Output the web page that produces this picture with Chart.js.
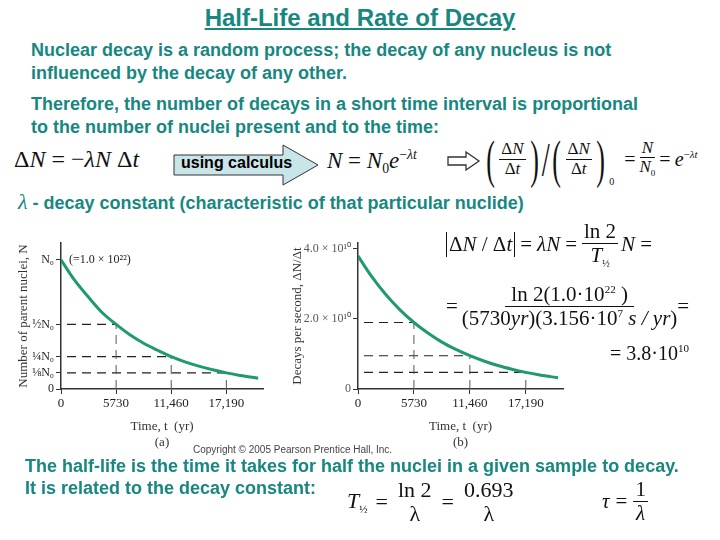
<!DOCTYPE html>
<html><head><meta charset="utf-8">
<script src="https://cdn.jsdelivr.net/npm/chart.js@4/dist/chart.umd.min.js"></script>
<style>
html,body{margin:0;padding:0;background:#fff}
#slide{position:relative;width:720px;height:540px;overflow:hidden;background:#fff}
.abs{position:absolute;white-space:nowrap}
.teal{color:#17877f;font-family:"Liberation Sans Narrow","Arial Narrow","Liberation Sans",sans-serif;font-weight:bold}
.serif{font-family:"Liberation Serif","Times New Roman",serif;color:#111}
.frac{display:inline-flex;flex-direction:column;align-items:center;vertical-align:middle;line-height:1.1}
.frac>span:first-child{border-bottom:1.3px solid #111;padding:0 2px}
.fracnb>span:first-child{border-bottom:none}
canvas{position:absolute}
sub,sup{font-size:60%}
</style></head>
<body><div id="slide">
<div class="abs teal" style="left:0;width:720px;text-align:center;top:4px;font-size:24px;text-decoration:underline;">Half-Life and Rate of Decay</div>
<div class="abs teal" style="left:31px;top:39px;font-size:18px;line-height:23px;">Nuclear decay is a random process; the decay of any nucleus is not<br>influenced by the decay of any other.</div>
<div class="abs teal" style="left:31px;top:93px;font-size:18px;line-height:23px;">Therefore, the number of decays in a short time interval is proportional<br>to the number of nuclei present and to the time:</div>

<div class="abs serif" style="left:14px;top:146px;font-size:24px;">Δ<i>N</i> = −<i>λN</i> Δ<i>t</i></div>
<svg class="abs" style="left:172px;top:142px" width="150" height="46"><polygon points="2,13 111,13 111,3 146,23 111,43 111,33 2,33" fill="#c8e5ea" stroke="#333" stroke-width="1"/></svg>
<div class="abs" style="left:181px;top:154px;font:bold 16px 'Liberation Sans Narrow','Liberation Sans',sans-serif;color:#000">using calculus</div>
<div class="abs serif" style="left:327px;top:147px;font-size:23px;"><i>N</i> = <i>N</i><sub>0</sub><i>e</i><sup>−<i>λt</i></sup></div>
<svg class="abs" style="left:446px;top:150px" width="36" height="22"><polygon points="2,7 20,7 20,2 33,11 20,20 20,15 2,15" fill="#fff" stroke="#333" stroke-width="1.3"/></svg>
<div class="abs serif" style="left:482px;top:131px;font-size:17px;display:flex;align-items:center;height:56px;">
<span style="font-size:52px;transform:scaleX(0.5);display:inline-block;">(</span><span class="frac"><span>Δ<i>N</i></span><span>Δ<i>t</i></span></span><span style="font-size:52px;transform:scaleX(0.5);display:inline-block;">)</span><span style="font-size:48px;transform:scaleX(0.6);display:inline-block;margin:0 -4px">/</span><span style="font-size:52px;transform:scaleX(0.5);display:inline-block;">(</span><span class="frac"><span>Δ<i>N</i></span><span>Δ<i>t</i></span></span><span style="font-size:52px;transform:scaleX(0.5);display:inline-block;">)</span><span style="font-size:10px;align-self:flex-end;margin-right:6px">0</span><span style="font-size:20px;margin:0 4px">=</span><span class="frac"><span><i>N</i></span><span><i>N</i><sub style="font-size:9px">0</sub></span></span><span style="font-size:20px;margin:0 4px">=</span><span style="font-size:20px"><i>e</i><sup style="font-size:11px;vertical-align:8px">−<i>λt</i></sup></span></div>

<div class="abs teal" style="left:18px;top:189px;font-size:18px;"><span style="font-family:'Liberation Serif',serif;font-style:italic;font-size:22px;font-weight:normal">λ</span> - decay constant (characteristic of that particular nuclide)</div>

<canvas id="ca" width="280" height="220" style="left:0;top:230px;width:280px;height:220px"></canvas>
<canvas id="cb" width="290" height="220" style="left:290px;top:230px;width:290px;height:220px"></canvas>

<div class="abs serif" style="left:446px;top:220px;font-size:21px;display:flex;align-items:center;">
<span style="border-left:1.3px solid #111;border-right:1.3px solid #111;padding:0 2px">Δ<i>N</i> / Δ<i>t</i></span><span style="margin:0 5px">=</span><i>λN</i><span style="margin:0 5px">=</span><span class="frac"><span style="font-weight:normal">ln 2</span><span><i>T</i><sub style="font-size:10px">½</sub></span></span><i style="margin-left:3px">N</i><span style="margin-left:5px">=</span></div>

<div class="abs serif" style="left:446px;top:283px;font-size:21px;display:flex;align-items:center;">
<span style="margin-right:4px">=</span><span class="frac"><span style="padding:0 6px">ln 2(1.0·10<sup style="font-size:11px">22</sup> )</span><span>(5730<i>yr</i>)(3.156·10<sup style="font-size:11px">7</sup><i> s / yr</i>)</span></span><span>=</span></div>
<div class="abs serif" style="left:610px;top:342px;font-size:20px;">= 3.8·10<sup style="font-size:11px">10</sup></div>

<div class="abs" style="left:193px;top:444px;font:10px 'Liberation Sans',sans-serif;color:#444">Copyright © 2005 Pearson Prentice Hall, Inc.</div>
<div class="abs teal" style="left:25px;top:455px;font-size:18px;line-height:22px;font-family:'Liberation Sans',sans-serif">The half-life is the time it takes for half the nuclei in a given sample to decay.<br>It is related to the decay constant:</div>

<div class="abs serif" style="left:347px;top:478px;font-size:22px;display:flex;align-items:center;">
<span><i>T</i><sub style="font-size:11px">½</sub></span><span style="margin:0 8px">=</span><span class="frac fracnb"><span>ln 2</span><span>λ</span></span><span style="margin:0 8px">=</span><span class="frac fracnb"><span>0.693</span><span>λ</span></span></div>
<div class="abs serif" style="left:602px;top:478px;font-size:21px;display:flex;align-items:center;">
<i>τ</i><span style="margin:0 6px">=</span><span class="frac"><span>1</span><span><i>λ</i></span></span></div>
</div>
<script>
// ---- data ----
const timeYr = [0, 1430, 2865, 4300, 5730, 7160, 8595, 10030, 11460, 12890, 14325, 15760, 17190, 18620, 20500];
const parentFraction = [1.0, 0.84, 0.71, 0.59, 0.50, 0.42, 0.354, 0.30, 0.25, 0.21, 0.177, 0.149, 0.125, 0.105, 0.084];
const decaysPerSecE10 = [3.8, 3.2, 2.69, 2.26, 1.9, 1.6, 1.34, 1.13, 0.95, 0.8, 0.67, 0.565, 0.475, 0.4, 0.32];
const halfLifeMarks = [5730, 11460, 17190];
const fractionMarks = [0.5, 0.25, 0.125];
const rateMarksE10 = [1.9, 0.95, 0.475];
const xTicks = [0, 5730, 11460, 17190];
const xTickLabels = ["0", "5730", "11,460", "17,190"];
const yTicksA = [0, 0.125, 0.25, 0.5, 1];
const yTickLabelsA = ["0", "⅛N₀", "¼N₀", "½N₀", "N₀"];
const yTicksB = [0, 2.0e10, 4.0e10];
const yTickLabelsB = ["0", "2.0 × 10¹⁰", "4.0 × 10¹⁰"];

const green = '#1f9a6c';
const serif = "'Liberation Serif','Times New Roman',serif";

function dashSets(levels){
  const sets = [];
  halfLifeMarks.forEach((t,i)=>{
    sets.push({data:[{x:0,y:levels[i]},{x:t,y:levels[i]}],borderColor:'#222',borderWidth:1.2,borderDash:[9,6],borderDashOffset:-6,pointRadius:0,fill:false});
    sets.push({data:[{x:t,y:0},{x:t,y:levels[i]}],borderColor:'#555',borderWidth:1,borderDash:[9,6],pointRadius:0,fill:false});
  });
  return sets;
}

function makeChart(id, curve, levels, yTicks, yLabels, yMax, yWidth, yTitle, xTitle, tickColor, yTickSize, yTitlePad, extraPlugin){
  return new Chart(document.getElementById(id), {
    type:'line',
    data:{datasets:[
      {data:timeYr.map((t,i)=>({x:t,y:curve[i]})),borderColor:green,borderWidth:3,pointRadius:0,tension:0.4,cubicInterpolationMode:'monotone',fill:false},
      ...dashSets(levels)
    ]},
    options:{
      responsive:false,animation:false,
      layout:{padding:{top:13,right:17,left:0,bottom:0}},
      plugins:{legend:{display:false},tooltip:{enabled:false}},
      scales:{
        x:{type:'linear',min:0,max:21000,
          afterBuildTicks:s=>{s.ticks=xTicks.map(v=>({value:v}));},
          afterFit:s=>{s.height=61;},
          ticks:{callback:(v)=>xTickLabels[xTicks.indexOf(v)],color:'#222',font:{family:serif,size:13},padding:2,maxRotation:0,autoSkip:false},
          grid:{drawOnChartArea:false,drawTicks:true,tickLength:5,color:'#333'},
          border:{display:true,color:'#333',width:1.5},
          title:{display:true,text:xTitle,color:'#333',font:{family:serif,size:13},padding:{top:1,bottom:0}}
        },
        y:{type:'linear',min:0,max:yMax,
          afterBuildTicks:s=>{s.ticks=yTicks.map(v=>({value:v}));},
          afterFit:s=>{s.width=yWidth;},
          ticks:{callback:(v)=>yLabels[yTicks.indexOf(v)],color:tickColor,font:{family:serif,size:yTickSize},padding:2,autoSkip:false},
          grid:{drawOnChartArea:false,drawTicks:true,tickLength:5,color:'#333'},
          border:{display:true,color:'#333',width:1.5},
          title:{display:true,text:yTitle,color:'#333',font:{family:serif,size:13},padding:{top:yTitlePad,bottom:0}}
        }
      }
    },
    plugins: extraPlugin ? [extraPlugin] : []
  });
}

const noteA = {id:'noteA',afterDraw(c){
  const ctx=c.ctx, x=c.scales.x.getPixelForValue(0)+8, y=c.scales.y.getPixelForValue(1);
  ctx.save();ctx.font="12px "+serif;ctx.fillStyle='#222';ctx.textBaseline='middle';
  ctx.fillText('(=1.0 × 10²²)',x,y);ctx.restore();
}};

makeChart('ca', parentFraction, fractionMarks, yTicksA, yTickLabelsA, 1.13, 61,
  'Number of parent nuclei, N', ['Time, t  (yr)','(a)'], '#222', 12, 16, noteA);
makeChart('cb', decaysPerSecE10.map(v=>v*1e10), rateMarksE10.map(v=>v*1e10), yTicksB, yTickLabelsB, 4.17e10, 68,
  'Decays per second, ΔN/Δt', ['Time, t  (yr)','(b)'], '#555', 12, 0, null);
</script>
</body></html>
